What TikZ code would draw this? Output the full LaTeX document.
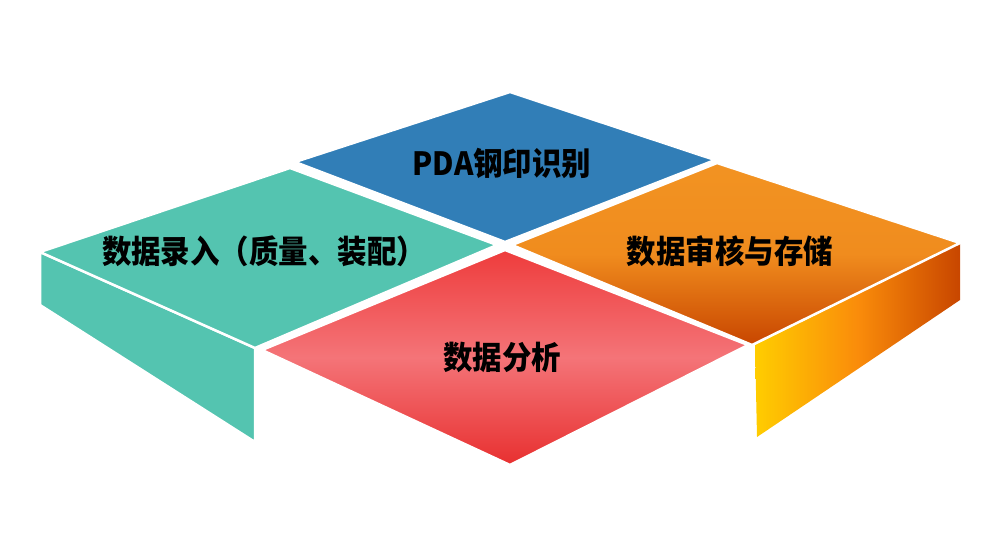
\documentclass[tikz,border=0pt]{standalone}
\usepackage{fontspec}
\newfontfamily\cjk{Noto Sans CJK SC}[BoldFont={Noto Sans CJK SC Black}]
\begin{document}
\begin{tikzpicture}[x=1pt,y=-1pt,
  face/.style={draw=white,line width=2.5pt,line join=round},
  lbl/.style={font=\cjk\bfseries\fontsize{32}{36}\selectfont,text=black,transform shape,xscale=0.92}]
\useasboundingbox (0,0) rectangle (1000,543);
% green side
\path[fill={rgb,255:red,84;green,196;blue,176},face] (40,252) -- (255,348) -- (255,442) -- (40,305) -- cycle;
% yellow/orange side
\shade[left color={rgb,255:red,255;green,205;blue,0},right color={rgb,255:red,200;green,70;blue,0},middle color={rgb,255:red,250;green,140;blue,10}] (755,345) -- (960,243) -- (960,300) -- (757,437) -- cycle;
% green top
\path[fill={rgb,255:red,84;green,196;blue,176},face] (290,168) -- (497,245) -- (255,348) -- (40,252) -- cycle;
% blue top
\path[fill={rgb,255:red,49;green,126;blue,183},face] (510,92) -- (715,160) -- (505,242) -- (295,162) -- cycle;
% orange top
\shade[top color={rgb,255:red,242;green,147;blue,34},bottom color={rgb,255:red,200;green,70;blue,0},middle color={rgb,255:red,240;green,140;blue,30}] (717,163) -- (960,243) -- (752,345) -- (512,245) -- cycle;
\draw[face] (717,163) -- (960,243) -- (752,345) -- (512,245) -- cycle;
% red top
\shade[top color={rgb,255:red,238;green,60;blue,60},bottom color={rgb,255:red,232;green,48;blue,48},middle color={rgb,255:red,244;green,116;blue,120}] (505,250) -- (748,345) -- (510,465) -- (262,350) -- cycle;
\draw[face] (505,250) -- (748,345) -- (510,465) -- (262,350) -- cycle;
\node[lbl] (a) at (502,163) {PDA钢印识别};
\node[lbl] (b) at (264,251) {数据录入（质量、装配）};
\node[lbl] (c) at (730,251) {数据审核与存储};
\node[lbl] (d) at (502,357) {数据分析};
\end{tikzpicture}
\end{document}
